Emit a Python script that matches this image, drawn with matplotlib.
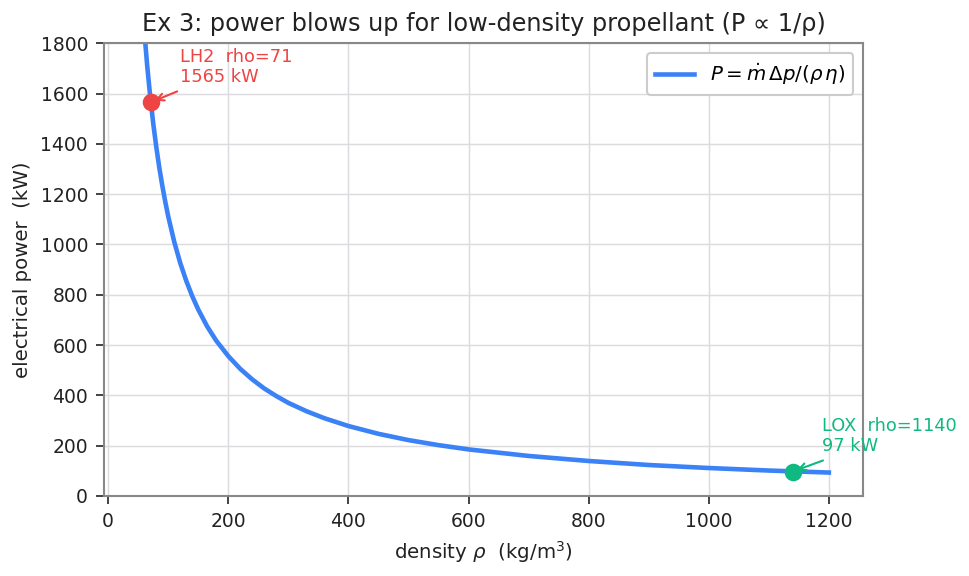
import matplotlib
matplotlib.use("Agg")
import matplotlib.pyplot as plt

# density (kg/m^3) and power (kW)
rho = [50, 55, 60, 65, 70, 75, 80, 85, 90, 95, 100, 110, 120, 130, 140, 150,
       165, 180, 200, 220, 240, 260, 280, 300, 330, 360, 400, 450, 500, 550,
       600, 700, 800, 900, 1000, 1100, 1200]
power = [2222, 2020, 1852, 1709, 1587, 1481, 1389, 1307, 1235, 1170, 1111,
         1010, 926, 855, 794, 741, 673, 617, 556, 505, 463, 427, 397, 370,
         337, 309, 278, 247, 222, 202, 185, 159, 139, 123, 111, 101, 93]

points = ["LH2", "LOX"]
point_rho = [71, 1140]
point_power = [1565, 97]
point_colors = ["#ef4444", "#10b981"]

blue = "#3b82f6"

fig = plt.figure(figsize=(6.46, 3.84), dpi=150)
ax = fig.add_axes([0.107, 0.139, 0.784, 0.786])

ax.plot(rho, power, color=blue, lw=2.2, label=r"$P = \dot{m}\,\Delta p / (\rho\,\eta)$")

for name, r, p, c in zip(points, point_rho, point_power, point_colors):
    ax.scatter([r], [p], s=55, color=c, zorder=5)
    ax.annotate(f"{name}  rho={r}\n{p} kW", xy=(r, p), xytext=(14, 8),
                textcoords="offset points", color=c, fontsize=8.5,
                va="bottom", ha="left", linespacing=1.1,
                arrowprops=dict(arrowstyle="->", color=c, lw=1.0))

ax.set_ylim(0, 1800)
ax.margins(x=0.05)
ax.grid(True, color="#dcdce0", lw=0.7)
ax.set_axisbelow(True)
for s in ax.spines.values():
    s.set_color("#888888")
    s.set_linewidth(1.0)
ax.tick_params(labelsize=9, colors="#222222", length=4)

ax.set_xlabel(r"density $\rho$  (kg/m$^3$)", fontsize=9.5, color="#222222")
ax.set_ylabel("electrical power  (kW)", fontsize=9.5, color="#222222")
ax.set_title("Ex 3: power blows up for low-density propellant (P ∝ 1/ρ)",
             fontsize=11.5, color="#222222")

leg = ax.legend(loc="upper right", fontsize=9.5, framealpha=1, edgecolor="#cccccc")

fig.savefig("out.png", dpi=150)
